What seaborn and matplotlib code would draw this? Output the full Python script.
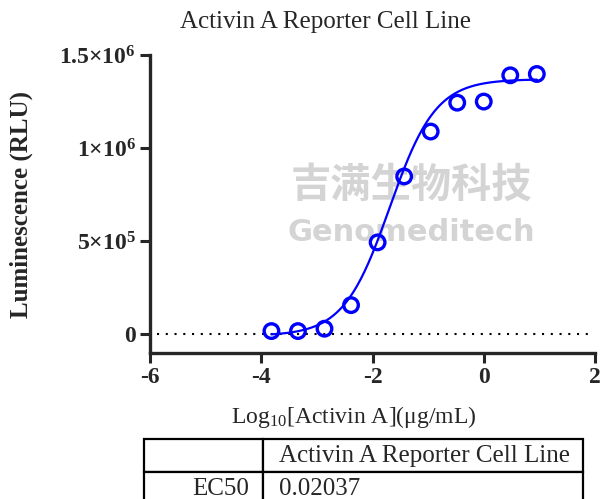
import numpy as np
import pandas as pd
import seaborn as sns
import matplotlib.pyplot as plt

# Dose (log10 ug/mL) and luminescence readings
log_dose = [-3.817, -3.340, -2.863, -2.386, -1.908, -1.431, -0.954, -0.477, 0.0, 0.477, 0.954]
rlu = [17700, 17700, 30500, 157000, 494000, 848000, 1089000, 1244000, 1250000, 1391000, 1398000]

# 4PL fit parameters
ec50 = 0.02037
fit_top = 1370000
fit_bottom = -8000
fit_hill = 1.05

yticks = [0, 5e5, 1e6, 1.5e6]
ytick_labels = ['0', r'$\mathbf{5{\times}10^{5}}$', r'$\mathbf{1{\times}10^{6}}$', r'$\mathbf{1.5{\times}10^{6}}$']
xticks = [-6, -4, -2, 0, 2]

table_rows = [['', 'Activin A Reporter Cell Line'], ['EC50', '0.02037']]

sns.set_style('ticks')
plt.rcParams['font.family'] = ['Liberation Serif', 'DejaVu Serif']
plt.rcParams['mathtext.fontset'] = 'custom'
plt.rcParams['mathtext.rm'] = 'Liberation Serif'
plt.rcParams['mathtext.bf'] = 'Liberation Serif:bold'
plt.rcParams['mathtext.it'] = 'Liberation Serif:italic'

df = pd.DataFrame({'x': log_dose, 'y': rlu})
xfit = np.linspace(min(log_dose), max(log_dose), 300)
yfit = fit_bottom + (fit_top - fit_bottom) / (1 + 10 ** ((np.log10(ec50) - xfit) * fit_hill))
fit_df = pd.DataFrame({'x': xfit, 'y': yfit})

fig = plt.figure(figsize=(6.03, 4.99), dpi=100)
ax = fig.add_axes([150 / 603, 1 - 353 / 499, 445 / 603, 298 / 499])

# watermark
ax.text(0.587, 0.564, '吉满生物科技', transform=ax.transAxes, ha='center', va='center',
        fontsize=29, fontweight='bold', color='#d4d4d4', family=['Noto Sans CJK SC', 'DejaVu Sans'], zorder=0)
ax.text(0.588, 0.403, 'Genomeditech', transform=ax.transAxes, ha='center', va='center',
        fontsize=22, fontweight='bold', color='#d4d4d4', family=['DejaVu Sans'], zorder=0)

ax.axhline(0, color='black', lw=1.5, ls=(0, (1, 3.2)), xmin=0.015, xmax=0.99, zorder=1)
sns.lineplot(data=fit_df, x='x', y='y', color='#0000FF', lw=1.6, ax=ax, zorder=3)
sns.scatterplot(data=df, x='x', y='y', marker='o', s=110, facecolors='none',
                edgecolor='#0000FF', linewidth=2.4, ax=ax, zorder=4)

ax.set_xlim(-6, 2)
ax.set_ylim(-1e5, 1.5e6)
ax.set_xticks(xticks)
ax.set_xticklabels([str(t) for t in xticks])
ax.set_yticks(yticks)
ax.set_yticklabels(ytick_labels)
for lab in ax.get_xticklabels() + ax.get_yticklabels():
    lab.set_fontweight('bold')
    lab.set_fontsize(17)
ax.tick_params(width=2.2, length=7, direction='out', pad=3)
for s in ['top', 'right']:
    ax.spines[s].set_visible(False)
for s in ['left', 'bottom']:
    ax.spines[s].set_linewidth(2.4)

ax.set_xlabel(r'Log$_{10}$[Activin A](μg/mL)', fontsize=17)
ax.xaxis.set_label_coords(0.458, -0.172)
ax.set_ylabel('Luminescence (RLU)', fontsize=18, fontweight='bold')
ax.yaxis.set_label_coords(-0.263, 0.5)

fig.text(325 / 603, 1 - 22 / 499, 'Activin A Reporter Cell Line', ha='center', va='center', fontsize=18)

# table under the plot
tab_ax = fig.add_axes([0, 0, 1, 1])
tab_ax.axis('off')
tab_ax.set_xlim(0, 1)
tab_ax.set_ylim(0, 1)
tbl = tab_ax.table(cellText=table_rows, colWidths=[119 / 439, 320 / 439],
                   bbox=[144 / 603, 1 - 506 / 499, 439 / 603, 67 / 499])
tbl.auto_set_font_size(False)
for (r, c), cell in tbl.get_celld().items():
    cell.set_linewidth(1.6)
    cell.get_text().set_fontsize(18)
    if c == 0:
        cell._loc = 'right'
        cell.PAD = 0.12
    else:
        cell._loc = 'left'
        cell.PAD = 0.05
    cell.get_text().set_ha(cell._loc)

fig.savefig('out.png', dpi=100)
